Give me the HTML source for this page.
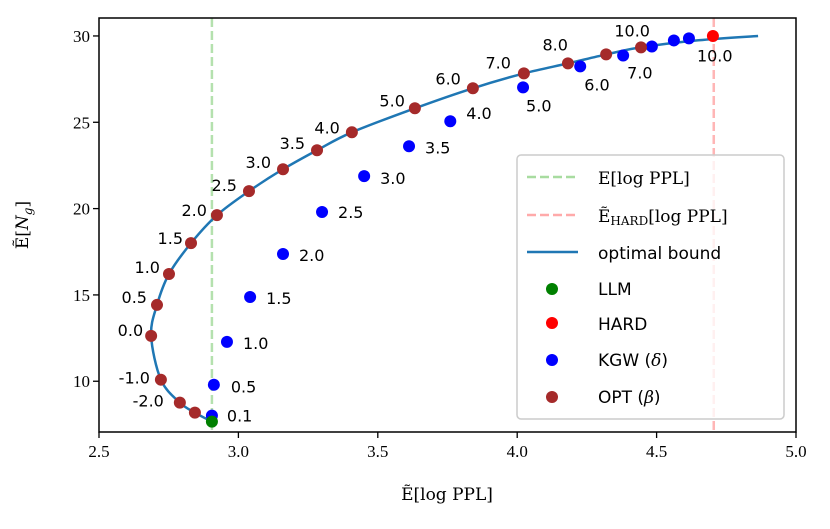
<!DOCTYPE html>
<html><head><meta charset="utf-8"><style>
html,body{margin:0;padding:0;background:#fff;width:830px;height:529px;overflow:hidden}
svg{display:block}
.tick{font-family:"Liberation Serif",serif;font-size:17px;fill:#000}
.pl{font-family:"DejaVu Sans","Liberation Sans",sans-serif;font-size:16px;fill:#000}
.lg{font-family:"DejaVu Sans","Liberation Sans",sans-serif;font-size:17px;fill:#000}
.lgs{font-family:"DejaVu Serif","Liberation Serif",serif;font-size:17px;fill:#000}
</style></head><body>
<svg id="chart" width="830" height="529"></svg>
<script>
const xTicks=[2.5,3.0,3.5,4.0,4.5,5.0];
const xTickLabels=["2.5","3.0","3.5","4.0","4.5","5.0"];
const yTicks=[10,15,20,25,30];
const yTickLabels=["10","15","20","25","30"];
const optX=[2.844,2.79,2.722,2.687,2.708,2.751,2.83,2.923,3.038,3.16,3.282,3.407,3.633,3.841,4.024,4.182,4.319,4.444];
const optY=[8.18,8.76,10.09,12.63,14.42,16.21,18.0,19.62,21.01,22.28,23.38,24.42,25.81,26.97,27.83,28.41,28.93,29.34];
const optLabels=["","-2.0","-1.0","0.0","0.5","1.0","1.5","2.0","2.5","3.0","3.5","4.0","5.0","6.0","7.0","8.0","","10.0"];
const kgwX=[2.905,2.912,2.959,3.042,3.16,3.30,3.451,3.612,3.76,4.021,4.226,4.38,4.483,4.562,4.616];
const kgwY=[8.01,9.8,12.28,14.88,17.37,19.8,21.88,23.61,25.06,27.02,28.24,28.87,29.39,29.74,29.86];
const kgwLabels=["0.1","0.5","1.0","1.5","2.0","2.5","3.0","3.5","4.0","5.0","6.0","7.0","","","10.0"];
const llmX=[2.905], llmY=[7.66];
const hardX=[4.702], hardY=[30.0];
const boundX=[2.905,2.844,2.79,2.722,2.687,2.708,2.751,2.83,2.923,3.038,3.16,3.282,3.407,3.633,3.841,4.024,4.182,4.319,4.444,4.65,4.864];
const boundY=[7.66,8.18,8.76,10.09,12.63,14.42,16.21,18.0,19.62,21.01,22.28,23.38,24.42,25.81,26.97,27.83,28.41,28.93,29.34,29.75,30.0];
const llmMean=2.905, hardMean=4.705;
// label nudges (pixels, styling only)
const optNudgeX=[0,-16,-11,-8,-10,-9,-8,-10,-12,-12,-12,-12,-10,-12,-13,0,0,9];
const optNudgeY=[0,4,4,0,-2,-1,1,1,0,-1,-1,1,-2,-4,-5,-13,0,-11];
const kgwNudgeX=[15,17,16,16,16,16,16,16,16,3,4,4,0,0,8];
const kgwNudgeY=[6,8,7,7,7,6,8,7,-2,24,24,23,0,0,23];

const L=99,R=796,T=18,B=432,X0=2.5,X1=5.0,Y0=7.06,Y1=31.04;
const sx=v=>L+(v-X0)/(X1-X0)*(R-L);
const sy=v=>B-(v-Y0)/(Y1-Y0)*(B-T);
const svg=document.getElementById('chart');
const NS='http://www.w3.org/2000/svg';
function mk(tag,attrs,parent){const e=document.createElementNS(NS,tag);for(const k in attrs)e.setAttribute(k,attrs[k]);(parent||svg).appendChild(e);return e;}

let e=mk('line',{x1:sx(llmMean),x2:sx(llmMean),y1:T,y2:B,stroke:'#a8dca0','stroke-width':2.5,'stroke-dasharray':'9,4',opacity:0.85});


e=mk('line',{x1:sx(hardMean),x2:sx(hardMean),y1:T,y2:B,stroke:'#ffaaaa','stroke-width':2.5,'stroke-dasharray':'9,4',opacity:0.85});



const P=boundX.map((v,i)=>[sx(v),sy(boundY[i])]);
let d='M'+P[0][0]+','+P[0][1];
for(let i=0;i<P.length-1;i++){const p0=P[Math.max(i-1,0)],p1=P[i],p2=P[i+1],p3=P[Math.min(i+2,P.length-1)];
d+=' C'+(p1[0]+(p2[0]-p0[0])/6)+','+(p1[1]+(p2[1]-p0[1])/6)+' '+(p2[0]-(p3[0]-p1[0])/6)+','+(p2[1]-(p3[1]-p1[1])/6)+' '+p2[0]+','+p2[1];}
e=mk('path',{d:d,fill:'none',stroke:'#1f77b4','stroke-width':2.5});



kgwX.forEach((v,i)=>{const c=mk('circle',{cx:sx(v),cy:sy(kgwY[i]),r:6,fill:'#0000ff'});


if(kgwLabels[i]){const t=mk('text',{x:sx(v)+kgwNudgeX[i],y:sy(kgwY[i])+kgwNudgeY[i],class:'pl'});t.textContent=kgwLabels[i];

}});
optX.forEach((v,i)=>{const c=mk('circle',{cx:sx(v),cy:sy(optY[i]),r:6,fill:'#a52a2a'});


if(optLabels[i]){const t=mk('text',{x:sx(v)+optNudgeX[i],y:sy(optY[i])+optNudgeY[i],class:'pl','text-anchor':'end'});t.textContent=optLabels[i];

}});
e=mk('circle',{cx:sx(llmX[0]),cy:sy(llmY[0]),r:6,fill:'#008000'});


e=mk('circle',{cx:sx(hardX[0]),cy:sy(hardY[0]),r:6,fill:'#ff0000'});



e=mk('rect',{x:L,y:T,width:R-L,height:B-T,fill:'none',stroke:'#000','stroke-width':1.5});


xTicks.forEach((v,i)=>{mk('line',{x1:sx(v),x2:sx(v),y1:B,y2:B+6,stroke:'#000','stroke-width':1.3});
const t=mk('text',{x:sx(v),y:B+25,class:'tick','text-anchor':'middle'});t.textContent=xTickLabels[i];

});
yTicks.forEach((v,i)=>{mk('line',{x1:L-6,x2:L,y1:sy(v),y2:sy(v),stroke:'#000','stroke-width':1.3});
const t=mk('text',{x:L-9,y:sy(v)+6,class:'tick','text-anchor':'end'});t.textContent=yTickLabels[i];

});
</script>
<svg style="position:absolute;left:0;top:0" width="830" height="529">
<text x="447" y="500" text-anchor="middle" class="lgs">Ẽ[log PPL]</text>
<text transform="translate(28,225) rotate(-90)" text-anchor="middle" class="lgs">Ẽ[<tspan font-style="italic">N</tspan><tspan font-size="12" font-style="italic" dy="4">g</tspan><tspan dy="-4">]</tspan></text>
<g>
<rect x="517" y="155" width="267" height="264" rx="4" fill="#fff" fill-opacity="0.8" stroke="#ccc" stroke-width="1.5"/>
<line x1="527" x2="578" y1="177" y2="177" stroke="#a8dca0" stroke-width="2.5" stroke-dasharray="9,4"/>
<text x="598" y="184" class="lgs">E[log PPL]</text>
<line x1="527" x2="578" y1="215" y2="215" stroke="#ffaaaa" stroke-width="2.5" stroke-dasharray="9,4"/>
<text x="598" y="222" class="lgs">Ẽ<tspan font-size="12" dy="3">HARD</tspan><tspan dy="-3">[log PPL]</tspan></text>
<line x1="527" x2="578" y1="252" y2="252" stroke="#1f77b4" stroke-width="2.5"/>
<text x="598" y="259" class="lg">optimal bound</text>
<circle cx="552" cy="289" r="6" fill="#008000"/>
<text x="598" y="295" class="lg">LLM</text>
<circle cx="552" cy="323" r="6" fill="#ff0000"/>
<text x="598" y="330" class="lg">HARD</text>
<circle cx="552" cy="360" r="6" fill="#0000ff"/>
<text x="598" y="366" class="lg">KGW (<tspan font-family="DejaVu Serif" font-style="italic">δ</tspan>)</text>
<circle cx="552" cy="397" r="6" fill="#a52a2a"/>
<text x="598" y="403" class="lg">OPT (<tspan font-family="DejaVu Serif" font-style="italic">β</tspan>)</text>
</g>
</svg>
</body></html>
